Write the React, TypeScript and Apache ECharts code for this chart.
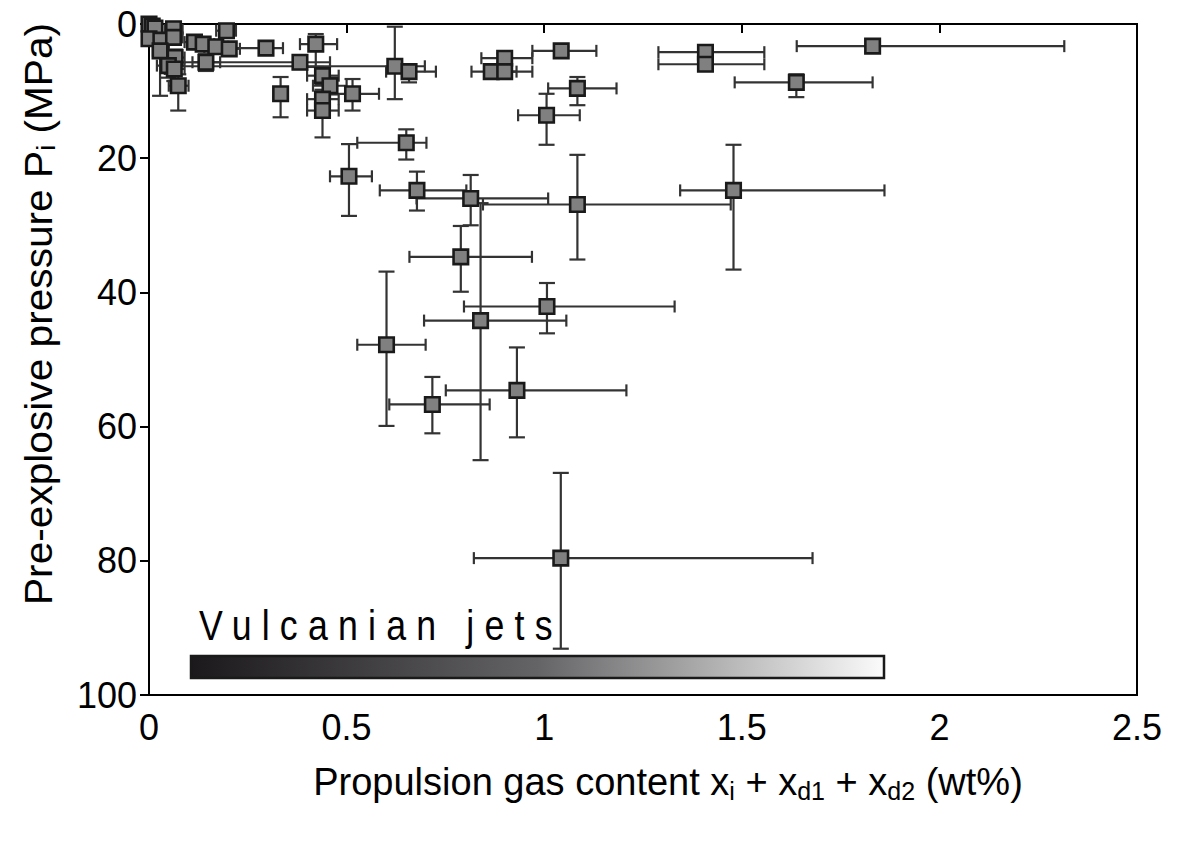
import React, { useEffect, useRef } from "react";
import * as echarts from "echarts";

// Propulsion gas content (wt%) and pre-explosive pressure (MPa), with error bounds
const gasContent = [
  1.042, 0.789, 1.007, 0.839, 1.084, 1.479, 0.601, 0.717, 0.931, 0.651,
  0.506, 0.678, 0.814, 1.006, 1.831, 1.408, 1.408, 1.638, 1.043, 0.900,
  0.866, 0.900, 1.084, 0.622, 0.658, 0.296, 0.422, 0.382, 0.439, 0.458,
  0.515, 0.439, 0.439, 0.333, 0.000, 0.008, 0.015, 0.062, 0.000, 0.030,
  0.062, 0.028, 0.066, 0.049, 0.064, 0.074, 0.115, 0.137, 0.169, 0.196,
  0.203, 0.144,
];
const pressure = [
  79.6, 34.7, 42.1, 44.2, 26.9, 24.8, 47.8, 56.7, 54.6, 17.7,
  22.7, 24.8, 26.0, 13.6, 3.3, 4.2, 6.0, 8.7, 4.0, 5.1,
  7.1, 7.1, 9.6, 6.3, 7.1, 3.6, 3.0, 5.7, 7.7, 9.2,
  10.4, 11.2, 12.9, 10.4, 0.0, 0.3, 0.6, 0.7, 2.2, 2.4,
  2.0, 4.0, 5.0, 6.2, 6.7, 9.2, 2.7, 3.0, 3.4, 1.0,
  3.7, 5.7,
];
const gasLow = [
  0.822, 0.659, 0.797, 0.696, 0.845, 1.344, 0.527, 0.608, 0.751, 0.527,
  0.458, 0.584, 0.677, 0.934, 1.639, 1.289, 1.289, 1.482, 0.970, 0.841,
  0.816, 0.860, 1.010, 0.060, 0.600, 0.190, 0.382, 0.070, 0.400, 0.415,
  0.458, 0.400, 0.400, 0.320, 0.000, 0.000, 0.000, 0.040, 0.000, 0.010,
  0.040, 0.010, 0.040, 0.020, 0.040, 0.050, 0.090, 0.110, 0.140, 0.170,
  0.180, 0.110,
];
const gasHigh = [
  1.679, 0.969, 1.330, 1.056, 1.472, 1.861, 0.700, 0.862, 1.208, 0.702,
  0.564, 0.803, 1.010, 1.090, 2.316, 1.557, 1.557, 1.831, 1.132, 0.970,
  0.930, 0.970, 1.183, 0.698, 0.726, 0.339, 0.476, 0.458, 0.480, 0.500,
  0.582, 0.480, 0.480, 0.350, 0.010, 0.020, 0.030, 0.085, 0.020, 0.050,
  0.085, 0.050, 0.090, 0.080, 0.090, 0.100, 0.140, 0.165, 0.200, 0.220,
  0.230, 0.180,
];
const pressureLow = [
  66.9, 30.1, 38.6, 26.7, 19.5, 18.0, 36.9, 52.6, 48.2, 15.7,
  17.9, 22.0, 22.5, 10.4, 2.5, 3.6, 5.4, 7.5, 3.4, 4.4,
  6.3, 6.3, 7.9, 0.4, 6.0, 3.0, 1.5, 4.7, 6.5, 8.0,
  8.2, 9.8, 11.5, 7.9, 0.0, 0.0, 0.2, 0.2, 1.5, 1.6,
  1.2, 2.5, 3.8, 4.5, 5.0, 7.5, 2.0, 2.3, 2.6, 0.3,
  2.8, 4.5,
];
const pressureHigh = [
  93.1, 39.9, 46.1, 65.0, 35.1, 36.6, 59.9, 61.0, 61.6, 20.2,
  28.6, 27.8, 30.0, 18.0, 4.1, 4.8, 6.6, 10.9, 4.6, 5.8,
  7.9, 7.9, 12.1, 11.2, 8.7, 4.2, 6.4, 6.7, 9.0, 10.5,
  12.9, 12.5, 16.9, 13.9, 0.3, 0.6, 1.0, 1.2, 3.0, 3.2,
  2.8, 10.7, 6.2, 8.0, 8.5, 12.9, 3.4, 3.7, 4.2, 1.6,
  4.6, 7.0,
];

const xTicks = ["0", "0.5", "1", "1.5", "2", "2.5"];
const yTicks = ["0", "20", "40", "60", "80", "100"];

const FONT = "'Liberation Sans', Arial, Helvetica, sans-serif";

export default function App() {
  const ref = useRef<HTMLDivElement>(null);

  useEffect(() => {
    if (!ref.current) return;
    const chart = echarts.init(ref.current, null, { renderer: "svg" });

    const rows = gasContent.map((x, i) => [
      x,
      pressure[i],
      gasLow[i],
      gasHigh[i],
      pressureLow[i],
      pressureHigh[i],
    ]);
    const points = gasContent.map((x, i) => [x, pressure[i]]);

    const lineStyle = { stroke: "#333333", lineWidth: 2.2 };
    const capX = 6; // half height of x-bar caps
    const capY = 8; // half width of y-bar caps

    const subStyle = {
      fontSize: 25,
      fontFamily: FONT,
      color: "#000",
      lineHeight: 16,
      verticalAlign: "bottom",
    };
    const baseStyle = { fontSize: 38, fontFamily: FONT, color: "#000", lineHeight: 42 };

    chart.setOption({
      animation: false,
      backgroundColor: "#ffffff",
      grid: {
        left: 149,
        right: 48,
        top: 24,
        bottom: 148,
        show: true,
        borderColor: "#000",
        borderWidth: 2,
        backgroundColor: "transparent",
      },
      xAxis: {
        type: "value",
        min: 0,
        max: 2.5,
        interval: 0.5,
        splitLine: { show: false },
        axisLine: { show: true, lineStyle: { color: "#000", width: 2 } },
        axisTick: { show: true, length: 9, lineStyle: { color: "#000", width: 2 } },
        axisLabel: {
          margin: 14,
          fontSize: 36,
          fontFamily: FONT,
          color: "#000",
          formatter: (v: number) => xTicks[Math.round(v / 0.5)] ?? "",
        },
      },
      yAxis: {
        type: "value",
        inverse: true,
        min: 0,
        max: 100,
        interval: 20,
        splitLine: { show: false },
        axisLine: { show: true, lineStyle: { color: "#000", width: 2 } },
        axisTick: { show: true, length: 9, lineStyle: { color: "#000", width: 2 } },
        axisLabel: {
          margin: 12,
          fontSize: 36,
          fontFamily: FONT,
          color: "#000",
          formatter: (v: number) => yTicks[Math.round(v / 20)] ?? "",
        },
      },
      graphic: [
        {
          type: "rect",
          shape: { x: 191, y: 656, width: 693, height: 22 },
          style: {
            fill: new echarts.graphic.LinearGradient(0, 0, 1, 0, [
              { offset: 0, color: "#1b191b" },
              { offset: 0.5, color: "#646365" },
              { offset: 1, color: "#fbfbfb" },
            ]),
            stroke: "#1a1a1a",
            lineWidth: 2.5,
          },
          z: 1,
        },
        {
          type: "text",
          x: 199,
          y: 646,
          scaleX: 0.85,
          style: {
            text: "Vulcanian jets",
            font: "42px 'Liberation Sans', Arial, sans-serif",
            fill: "#000",
            textAlign: "left",
            textVerticalAlign: "bottom",
          },
          z: 1,
        },
        {
          type: "text",
          x: 668,
          y: 782,
          style: {
            text: "Propulsion gas content x{sub|i} + x{sub|d1} + x{sub|d2} (wt%)",
            rich: { sub: subStyle },
            ...baseStyle,
            fill: "#000",
            align: "center",
            verticalAlign: "middle",
          },
        },
        {
          type: "text",
          x: 38,
          y: 314,
          rotation: Math.PI / 2,
          scaleX: 1.07,
          style: {
            text: "Pre-explosive pressure P{sub|i} (MPa)",
            rich: { sub: subStyle },
            ...baseStyle,
            fill: "#000",
            align: "center",
            verticalAlign: "middle",
          },
        },
      ],
      series: [
        {
          type: "custom",
          coordinateSystem: "cartesian2d",
          clip: true,
          encode: { x: 0, y: 1 },
          data: rows,
          z: 2,
          renderItem: (params: any, api: any) => {
            const x = api.value(0);
            const y = api.value(1);
            const c = api.coord([x, y]);
            const xl = api.coord([api.value(2), y])[0];
            const xh = api.coord([api.value(3), y])[0];
            const yl = api.coord([x, api.value(4)])[1];
            const yh = api.coord([x, api.value(5)])[1];
            return {
              type: "group",
              children: [
                { type: "line", shape: { x1: xl, y1: c[1], x2: xh, y2: c[1] }, style: lineStyle },
                { type: "line", shape: { x1: xl, y1: c[1] - capX, x2: xl, y2: c[1] + capX }, style: lineStyle },
                { type: "line", shape: { x1: xh, y1: c[1] - capX, x2: xh, y2: c[1] + capX }, style: lineStyle },
                { type: "line", shape: { x1: c[0], y1: yl, x2: c[0], y2: yh }, style: lineStyle },
                { type: "line", shape: { x1: c[0] - capY, y1: yl, x2: c[0] + capY, y2: yl }, style: lineStyle },
                { type: "line", shape: { x1: c[0] - capY, y1: yh, x2: c[0] + capY, y2: yh }, style: lineStyle },
              ],
            };
          },
        },
        {
          type: "scatter",
          data: points,
          symbol: "rect",
          symbolSize: 14.5,
          z: 3,
          itemStyle: {
            color: "#808080",
            borderColor: "#1a1a1a",
            borderWidth: 2.6,
            opacity: 1,
          },
        },
      ],
    });

    // widen the letter spacing of the "Vulcanian jets" label as in the reference
    const texts = ref.current.querySelectorAll("text");
    texts.forEach((t) => {
      if (t.textContent === "Vulcanian jets") {
        (t as SVGTextElement).style.letterSpacing = "12px";
      }
    });

    return () => chart.dispose();
  }, []);

  return (
    <div
      ref={ref}
      style={{ position: "absolute", left: 0, top: 0, width: 1185, height: 843 }}
    />
  );
}
